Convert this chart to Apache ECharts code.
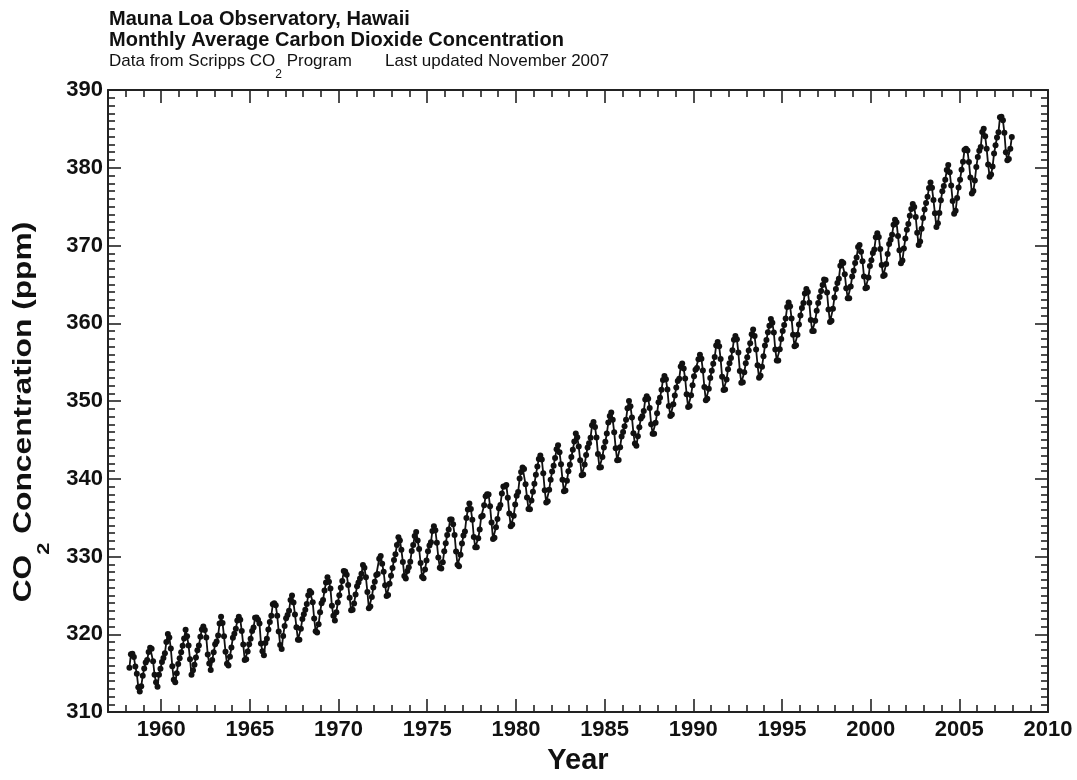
<!DOCTYPE html>
<html>
<head>
<meta charset="utf-8">
<script src="https://cdn.jsdelivr.net/npm/echarts@6/dist/echarts.min.js"></script>
<style>
html,body{margin:0;padding:0;background:#fff;}
#chart{width:1077px;height:780px;}
</style>
</head>
<body>
<div id="chart"></div>
<script>
// Monthly average CO2 (ppm), Mauna Loa; first value is March 1958
const startYear = 1958;
const startMonth = 3;
const co2_1958_1959 = [315.71,317.45,317.50,317.10,315.86,314.93,313.20,312.66,313.33,314.67,
  315.62,316.38,316.71,317.72,318.29,318.15,316.54,314.80,313.84,313.26,314.80,315.58];
const co2_1960s = [
  316.43,316.97,317.58,319.02,320.03,319.59,318.18,315.91,314.16,313.83,315.00,316.19,
  316.93,317.70,318.54,319.48,320.58,319.77,318.57,316.79,314.80,315.38,316.10,317.01,
  317.94,318.56,319.68,320.63,321.01,320.55,319.58,317.40,316.26,315.42,316.69,317.69,
  318.74,319.08,319.86,321.39,322.25,321.47,319.74,317.77,316.21,315.99,317.12,318.31,
  319.57,320.07,320.73,321.77,322.25,321.89,320.44,318.70,316.70,316.79,317.79,318.71,
  319.44,320.44,320.89,322.13,322.16,321.87,321.39,318.81,317.81,317.30,318.87,319.42,
  320.62,321.59,322.39,323.87,324.01,323.75,322.39,320.37,318.64,318.10,319.79,321.08,
  322.07,322.50,323.04,324.42,325.00,324.09,322.55,320.92,319.31,319.31,320.72,321.96,
  322.57,323.15,323.89,325.02,325.57,325.36,324.14,322.03,320.41,320.25,321.31,322.84,
  324.00,324.42,325.64,326.66,327.34,326.76,325.88,323.67,322.38,321.78,322.85,324.11];
const co2_1970s = [
  325.03,325.99,326.87,328.13,328.07,327.66,326.35,324.69,323.10,323.16,323.98,325.13,
  326.17,326.68,327.18,327.78,328.92,328.57,327.34,325.46,323.36,323.57,324.80,326.01,
  326.77,327.63,327.75,329.72,330.07,329.09,328.05,326.32,324.93,325.06,326.50,327.55,
  328.54,329.56,330.30,331.50,332.48,332.07,330.87,329.31,327.51,327.18,328.16,328.64,
  329.35,330.71,331.48,332.65,333.16,332.06,330.99,329.17,327.41,327.20,328.33,329.50,
  330.68,331.41,331.85,333.29,333.91,333.40,331.78,329.88,328.57,328.46,329.26,330.67,
  331.71,332.76,333.48,334.78,334.78,334.17,332.78,330.64,328.95,328.77,330.23,331.69,
  332.70,333.24,334.96,336.04,336.82,336.13,334.73,332.52,331.19,331.19,332.35,333.47,
  335.11,335.26,336.60,337.77,338.00,337.99,336.48,334.37,332.27,332.41,333.76,334.83,
  336.21,336.64,338.12,339.02,339.02,339.20,337.58,335.55,333.89,334.14,335.26,336.71];
const co2_1980s = [
  337.81,338.29,340.04,340.86,341.47,341.26,339.29,337.60,336.12,336.08,337.22,338.34,
  339.36,340.51,341.57,342.56,343.01,342.47,340.71,338.52,336.96,337.13,338.58,339.89,
  340.93,341.69,342.69,343.79,344.30,343.43,341.88,339.89,338.40,338.51,339.74,340.97,
  341.82,342.80,343.74,344.79,345.82,345.36,344.14,342.38,340.45,340.55,341.84,343.06,
  344.04,344.56,345.29,346.88,347.29,346.67,345.32,343.20,341.47,341.48,342.80,344.04,
  344.76,345.82,347.24,348.09,348.53,347.59,346.00,343.94,342.39,342.41,344.07,345.43,
  346.03,346.75,347.60,349.09,350.01,349.34,347.88,345.87,344.53,344.24,345.47,346.64,
  347.75,348.03,348.71,350.21,350.62,350.29,349.11,347.03,345.80,345.79,347.20,348.44,
  349.85,350.41,351.46,352.71,353.22,352.80,351.47,349.35,348.08,348.26,349.59,350.71,
  351.75,352.58,352.87,354.43,354.83,354.18,352.90,350.87,349.25,349.35,350.75,352.04];
const co2_1990s = [
  353.18,354.02,354.26,355.39,355.94,355.45,353.92,351.81,350.09,350.30,351.57,352.98,
  353.91,354.79,355.66,357.15,357.59,357.04,355.42,353.11,351.41,351.49,352.76,354.08,
  354.85,355.54,356.52,357.88,358.37,357.96,356.24,353.87,352.34,352.43,353.69,354.87,
  355.63,356.51,357.44,358.60,359.21,358.35,356.63,354.60,352.99,353.24,354.42,355.75,
  357.14,357.85,358.86,359.69,360.56,360.07,358.81,356.62,355.23,355.23,356.66,357.99,
  359.00,359.78,360.61,362.09,362.67,362.19,360.63,358.51,357.05,357.17,358.53,359.83,
  361.00,361.98,362.62,363.84,364.41,364.01,362.63,360.42,359.02,359.00,360.33,361.61,
  362.60,363.37,364.14,364.93,365.63,365.56,363.96,361.78,360.18,360.33,361.87,363.33,
  364.42,365.17,365.72,367.39,367.91,367.75,366.31,364.51,363.21,363.22,364.73,366.01,
  366.75,367.76,368.45,369.80,370.07,369.20,367.98,366.03,364.49,364.59,365.88,367.36];
const co2_2000s = [
  368.11,369.05,369.50,371.06,371.58,371.10,369.54,367.49,366.09,366.20,367.61,368.92,
  370.21,370.75,371.38,372.67,373.30,372.98,371.24,369.39,367.71,368.06,369.61,370.89,
  372.03,372.78,373.84,374.70,375.35,374.95,373.67,371.63,370.08,370.52,372.15,373.54,
  374.64,375.46,376.28,377.41,378.09,377.43,375.84,374.14,372.38,372.87,374.19,375.81,
  376.97,377.64,378.47,379.71,380.36,379.43,377.71,375.71,374.10,374.47,376.10,377.47,
  378.46,379.73,380.77,382.29,382.45,382.21,380.74,378.74,376.70,377.00,378.35,380.11,
  381.38,382.19,382.67,384.61,385.03,384.05,382.46,380.41,378.85,379.13,380.15,381.82,
  382.89,383.90,384.58,386.50,386.56,386.10,384.50,381.99,380.96,381.12,382.45,383.95];

const xTickLabels = ['1960','1965','1970','1975','1980','1985','1990','1995','2000','2005','2010'];
const yTickLabels = ['310','320','330','340','350','360','370','380','390'];

const allValues = [].concat(co2_1958_1959, co2_1960s, co2_1970s, co2_1980s, co2_1990s, co2_2000s);
const seriesData = allValues.map(function (v, i) {
  const mIndex = (startMonth - 1) + i;
  const yr = startYear + Math.floor(mIndex / 12);
  const m = mIndex % 12;
  return [yr + (m + 0.5) / 12, v];
});

const FONT = '"Liberation Sans", Arial, Helvetica, sans-serif';
const INK = '#111';
const FRAME = '#222';

function xAxisCfg(pos, showLabels) {
  return {
    type: 'value', position: pos, min: 1957, max: 2010, splitNumber: 10,
    axisLine: { show: true, onZero: false, lineStyle: { color: FRAME, width: 2 } },
    axisTick: { show: true, inside: true, length: 13, lineStyle: { color: FRAME, width: 1.6 } },
    minorTick: { show: true, splitNumber: 5, length: 7, lineStyle: { color: FRAME, width: 1.6 } },
    splitLine: { show: false },
    minorSplitLine: { show: false },
    axisLabel: {
      show: showLabels, margin: 7, color: INK, fontFamily: FONT, fontWeight: 'bold', fontSize: 22,
      showMinLabel: false, showMaxLabel: true,
      formatter: function (v) { const s = String(Math.round(v)); return xTickLabels.indexOf(s) >= 0 ? s : ''; }
    },
    name: showLabels ? 'Year' : '',
    nameLocation: 'middle', nameGap: 27,
    nameTextStyle: { color: INK, fontFamily: FONT, fontWeight: 'bold', fontSize: 29 }
  };
}
function yAxisCfg(pos, showLabels) {
  return {
    type: 'value', position: pos, min: 310, max: 390, interval: 10,
    axisLine: { show: true, onZero: false, lineStyle: { color: FRAME, width: 2 } },
    axisTick: { show: true, inside: true, length: 13, lineStyle: { color: FRAME, width: 1.6 } },
    minorTick: { show: true, splitNumber: 10, length: 7, lineStyle: { color: FRAME, width: 1.6 } },
    splitLine: { show: false },
    axisLabel: {
      show: showLabels, margin: 5, color: INK, fontFamily: FONT, fontWeight: 'bold', fontSize: 22,
      formatter: function (v) { const s = String(Math.round(v)); return yTickLabels.indexOf(s) >= 0 ? s : ''; }
    }
  };
}

const chart = echarts.init(document.getElementById('chart'), null, { renderer: 'canvas' });
chart.setOption({
  backgroundColor: '#fff',
  animation: false,
  grid: { left: 108, right: 29, top: 90, bottom: 59, containLabel: false },
  xAxis: [xAxisCfg('bottom', true), xAxisCfg('top', false)],
  yAxis: [yAxisCfg('left', true), yAxisCfg('right', false)],
  graphic: [
    { type: 'text', left: 109, top: 9.5,
      style: { text: 'Mauna Loa Observatory, Hawaii', fill: INK, font: 'bold 20px ' + FONT } },
    { type: 'text', left: 109, top: 30.5,
      style: { text: 'Monthly Average Carbon Dioxide Concentration', fill: INK, font: 'bold 20px ' + FONT } },
    { type: 'text', left: 109, top: 52.5,
      style: {
        text: '{a|Data from Scripps CO}{s|2}{a| Program}',
        fill: INK,
        rich: {
          a: { fontFamily: FONT, fontSize: 17, lineHeight: 17, verticalAlign: 'top', color: INK },
          s: { fontFamily: FONT, fontSize: 12, verticalAlign: 'top', padding: [16, 0, 0, 0], color: INK }
        }
      } },
    { type: 'text', left: 385, top: 52.5,
      style: { text: 'Last updated November 2007', fill: INK, font: '17px ' + FONT } },
    { type: 'text', x: 12, y: 412, rotation: Math.PI / 2, scaleX: 1.27, scaleY: 1,
      style: {
        text: '{a|CO}{s|2}{a| Concentration (ppm)}',
        align: 'center', verticalAlign: 'top',
        fill: INK,
        rich: {
          a: { fontFamily: FONT, fontWeight: 'bold', fontSize: 25, lineHeight: 25, verticalAlign: 'top', color: INK },
          s: { fontFamily: FONT, fontWeight: 'bold', fontSize: 17, verticalAlign: 'top', padding: [24, 0, 0, 0], color: INK }
        }
      } }
  ],
  series: [{
    type: 'line',
    xAxisIndex: 0, yAxisIndex: 0,
    data: seriesData,
    symbol: 'circle', symbolSize: 6, showSymbol: true, showAllSymbol: true,
    lineStyle: { color: INK, width: 1.8 },
    itemStyle: { color: INK },
    emphasis: { disabled: true },
    silent: true
  }]
});
</script>
</body>
</html>
